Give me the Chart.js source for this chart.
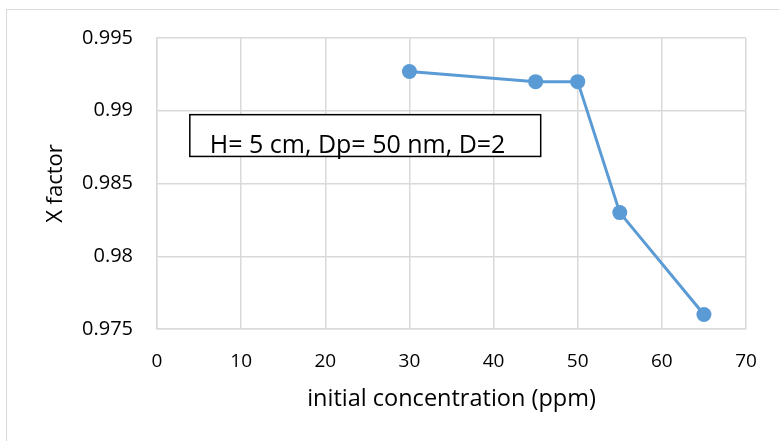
<!DOCTYPE html>
<html>
<head>
<meta charset="utf-8">
<script src="https://cdn.jsdelivr.net/npm/chart.js@4.4.0/dist/chart.umd.min.js"></script>
<style>
  html, body { margin: 0; padding: 0; background: #ffffff; }
  #wrap { width: 779px; height: 441px; position: relative; }
</style>
</head>
<body>
<div id="wrap"><canvas id="c" width="779" height="441"></canvas></div>
<script>
// ---- data ----
const concentrations = [30, 45, 50, 55, 65];
const xFactor = [0.9927, 0.992, 0.992, 0.983, 0.976];
const xTickLabels = ['0', '10', '20', '30', '40', '50', '60', '70'];
const yTickLabels = ['0.975', '0.98', '0.985', '0.99', '0.995'];
const xTitle = 'initial concentration (ppm)';
const yTitle = 'X factor';
const noteText = 'H= 5 cm, Dp= 50 nm, D=2';

// annotation box in data units
const noteBox = { xMin: 3.9, xMax: 45.6, yMax: 0.98973, yMin: 0.98686 };

const FONT = '"Open Sans", Lato, sans-serif';
const GRID = '#d9d9d9';

const pageBorder = {
  id: 'pageBorder',
  beforeDraw(chart) {
    const ctx = chart.ctx;
    ctx.save();
    ctx.fillStyle = '#ffffff';
    ctx.fillRect(0, 0, chart.width, chart.height);
    ctx.strokeStyle = '#d9d9d9';
    ctx.lineWidth = 1;
    ctx.strokeRect(6.5, 9.5, chart.width + 20, chart.height + 20);
    ctx.restore();
  }
};

const noteBoxPlugin = {
  id: 'noteBox',
  afterDatasetsDraw(chart) {
    const { ctx, scales: { x, y } } = chart;
    const l = x.getPixelForValue(noteBox.xMin);
    const r = x.getPixelForValue(noteBox.xMax);
    const t = y.getPixelForValue(noteBox.yMax);
    const b = y.getPixelForValue(noteBox.yMin);
    ctx.save();
    ctx.fillStyle = '#ffffff';
    ctx.fillRect(l, t, r - l, b - t);
    ctx.strokeStyle = '#000000';
    ctx.lineWidth = 1.5;
    ctx.strokeRect(l, t, r - l, b - t);
    ctx.fillStyle = '#000000';
    ctx.font = '25px ' + FONT;
    ctx.textAlign = 'left';
    ctx.textBaseline = 'alphabetic';
    ctx.fillText(noteText, l + 20, b - 3);
    ctx.restore();
  }
};

new Chart(document.getElementById('c'), {
  type: 'scatter',
  data: {
    datasets: [{
      data: concentrations.map((c, i) => ({ x: c, y: xFactor[i] })),
      showLine: true,
      borderColor: '#5B9BD5',
      backgroundColor: '#5B9BD5',
      borderWidth: 3,
      pointRadius: 7.5,
      pointHoverRadius: 7.5,
      pointBorderWidth: 0,
      tension: 0
    }]
  },
  options: {
    responsive: false,
    animation: false,
    devicePixelRatio: 1,
    layout: { padding: { left: 43, top: 38, right: 33, bottom: 28 } },
    plugins: {
      legend: { display: false },
      tooltip: { enabled: false }
    },
    scales: {
      x: {
        type: 'linear',
        min: 0, max: 70,
        ticks: {
          stepSize: 10,
          padding: 21,
          color: '#000000',
          font: { family: FONT, size: 19 },
          callback: (v, i) => xTickLabels[i]
        },
        grid: { color: GRID, lineWidth: 1.5, drawTicks: false },
        border: { color: GRID, width: 1.5 },
        title: {
          display: true, text: xTitle, color: '#000000',
          font: { family: FONT, size: 23.5 }, padding: { top: 0, bottom: 0 }
        },
        afterFit(scale) { scale.height = 441 - 28 - 329; }
      },
      y: {
        min: 0.975, max: 0.995,
        ticks: {
          stepSize: 0.005,
          padding: 24,
          color: '#000000',
          font: { family: FONT, size: 20 },
          callback: (v, i) => yTickLabels[i]
        },
        grid: { color: GRID, lineWidth: 1.5, drawTicks: false },
        border: { color: GRID, width: 1.5 },
        title: {
          display: true, text: yTitle, color: '#000000',
          font: { family: FONT, size: 22 }, padding: { top: 0, bottom: 0 }
        },
        afterFit(scale) { scale.width = 114; }
      }
    }
  },
  plugins: [pageBorder, noteBoxPlugin]
});
</script>
</body>
</html>
